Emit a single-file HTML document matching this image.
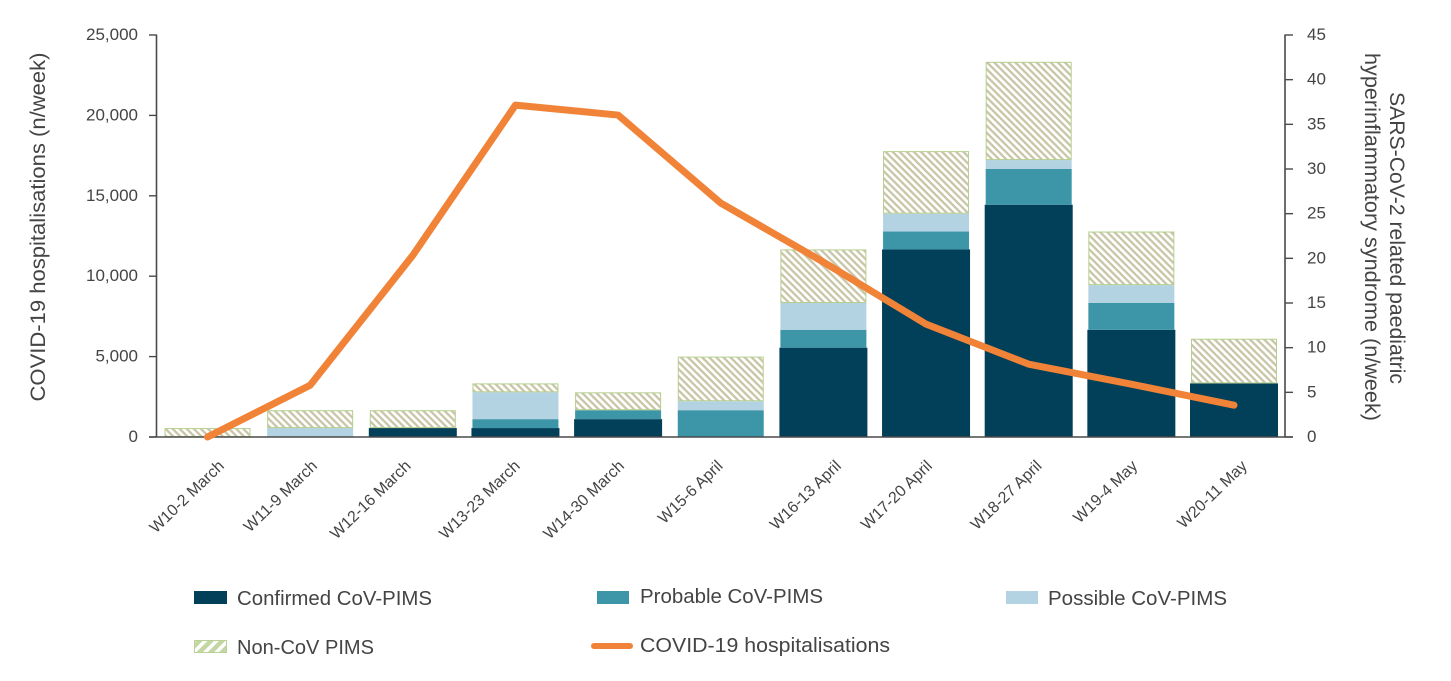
<!DOCTYPE html>
<html lang="en">
<head>
<meta charset="utf-8">
<title>COVID-19 hospitalisations and paediatric PIMS by week</title>
<style>
html,body{margin:0;padding:0;background:#fff;width:1451px;height:681px;overflow:hidden}
svg{display:block}
text{font-family:"Liberation Sans",sans-serif;fill:#444}
.tick{font-size:17px}
.axis-title{font-size:21px}
.cat{font-size:16px}
.legend{font-size:20px}
</style>
</head>
<body>
<svg id="chart" width="1451" height="681" viewBox="0 0 1451 681" xmlns="http://www.w3.org/2000/svg">
  <defs>
    <pattern id="hatch" width="5" height="5" patternUnits="userSpaceOnUse" patternTransform="rotate(45)">
      <rect width="5" height="5" fill="#fff"/>
      <rect width="5" height="2.3" fill="#c8c5a6"/>
    </pattern>
    <pattern id="hatch-legend" width="8" height="8" patternUnits="userSpaceOnUse" patternTransform="rotate(-45)">
      <rect width="8" height="8" fill="#fff"/>
      <rect width="8" height="4.5" fill="#c3d7a4"/>
    </pattern>
  </defs>
  <g id="bars"></g>
  <g id="axes"></g>
  <g id="line"></g>

  <text class="axis-title" transform="translate(45,227) rotate(-90)" text-anchor="middle" textLength="349" lengthAdjust="spacingAndGlyphs">COVID-19 hospitalisations (n/week)</text>
  <text class="axis-title" transform="translate(1390,238) rotate(90)" text-anchor="middle" textLength="292" lengthAdjust="spacingAndGlyphs">SARS-CoV-2 related paediatric</text>
  <text class="axis-title" transform="translate(1365,237) rotate(90)" text-anchor="middle" textLength="368" lengthAdjust="spacingAndGlyphs">hyperinflammatory syndrome (n/week)</text>

  <g>
    <g>
      <rect x="194" y="591" width="33" height="13" fill="#023f58"/>
      <text class="legend" x="237" y="605" textLength="195" lengthAdjust="spacingAndGlyphs">Confirmed CoV-PIMS</text>
    </g>
    <g>
      <rect x="597" y="591" width="32" height="13" fill="#3d96a8"/>
      <text class="legend" x="640" y="603" textLength="183" lengthAdjust="spacingAndGlyphs">Probable CoV-PIMS</text>
    </g>
    <g>
      <rect x="1006" y="591" width="32" height="13" fill="#b3d3e3"/>
      <text class="legend" x="1048" y="605" textLength="179" lengthAdjust="spacingAndGlyphs">Possible CoV-PIMS</text>
    </g>
    <g>
      <rect x="194.5" y="640.5" width="32" height="12" fill="url(#hatch-legend)" stroke="#b9d294" stroke-width="1"/>
      <text class="legend" x="237" y="654" textLength="137" lengthAdjust="spacingAndGlyphs">Non-CoV PIMS</text>
    </g>
    <g>
      <line x1="594" y1="646" x2="630" y2="646" stroke="#f08337" stroke-width="6" stroke-linecap="round"/>
      <text class="legend" x="640" y="652" textLength="250" lengthAdjust="spacingAndGlyphs">COVID-19 hospitalisations</text>
    </g>
  </g>
</svg>
<script>
const categories = ["W10-2 March","W11-9 March","W12-16 March","W13-23 March","W14-30 March","W15-6 April","W16-13 April","W17-20 April","W18-27 April","W19-4 May","W20-11 May"];
const confirmed = [0,0,1,1,2,0,10,21,26,12,6];
const probable = [0,0,0,1,1,3,2,2,4,3,0];
const possible = [0,1,0,3,0,1,3,2,1,2,0];
const nonCov = [1,2,2,1,2,5,6,7,11,6,5];
const hospitalisations = [0,3220,11300,20640,20020,14550,10880,7020,4530,3285,1980];
const leftTicks = [0,5000,10000,15000,20000,25000];
const rightTicks = [0,5,10,15,20,25,30,35,40,45];

const NS = 'http://www.w3.org/2000/svg';
const plotBottom = 437, plotTop = 35;
const yLeft = v => plotBottom - (v / 25000) * (plotBottom - plotTop);
const yRight = v => plotBottom - (v / 45) * (plotBottom - plotTop);
const xCenter = i => 207.5 + i * 102.65;
const barWidth = 86;

function labelShift(i) {
  return [17.5,8,-1,5.5,7,3,18.6,7,14,7,14][i];
}

function make(tag, attrs, parent) {
  const el = document.createElementNS(NS, tag);
  for (const k in attrs) el.setAttribute(k, attrs[k]);
  parent.appendChild(el);
  return el;
}

const barsG = document.getElementById('bars');
const axesG = document.getElementById('axes');
const lineG = document.getElementById('line');

const seriesList = [
  {key: 'confirmed', values: confirmed, fill: '#023f58', grow: 1},
  {key: 'probable', values: probable, fill: '#3d96a8', grow: 0},
  {key: 'possible', values: possible, fill: '#b3d3e3', grow: 0},
  {key: 'non-cov', values: nonCov, fill: 'url(#hatch)', grow: 0}
];

categories.forEach((cat, i) => {
  let base = 0;
  seriesList.forEach(s => {
    const v = s.values[i];
    if (v > 0) {
      const top = yRight(base + v), bottom = yRight(base);
      const hatched = s.key === 'non-cov';
      const r = make('rect', {
        x: xCenter(i) - barWidth / 2 - s.grow + (hatched ? 0.5 : 0),
        y: top + (hatched ? 0.5 : 0),
        width: barWidth + 2 * s.grow - (hatched ? 1 : 0),
        height: bottom - top - (hatched ? 1 : 0),
        fill: s.fill
      }, barsG);
      if (hatched) {
        r.setAttribute('stroke', '#b5cf8e');
        r.setAttribute('stroke-width', '1');
      }
      
      
    }
    base += v;
  });

  const lx = xCenter(i) + labelShift(i), ly = 467;
  const label = make('text', {
    class: 'cat',
    'text-anchor': 'end',
    transform: 'translate(' + lx + ',' + ly + ') rotate(-44)'
  }, axesG);
  label.textContent = cat;
  
  
});

const axisColor = '#4a4a4a';
const leftAxis = make('line', {x1: 156.5, y1: plotTop - 0.5, x2: 156.5, y2: plotBottom, stroke: axisColor, 'stroke-width': 1.6}, axesG);


const rightAxis = make('line', {x1: 1285, y1: plotTop - 0.5, x2: 1285, y2: plotBottom, stroke: axisColor, 'stroke-width': 1.6}, axesG);


const baseAxis = make('line', {x1: 149, y1: plotBottom, x2: 1293, y2: plotBottom, stroke: axisColor, 'stroke-width': 1.6}, axesG);



leftTicks.forEach(t => {
  const y = yLeft(t);
  const mark = make('line', {x1: 149, y1: y, x2: 156.5, y2: y, stroke: axisColor, 'stroke-width': 1.4}, axesG);
  
  
  const txt = make('text', {class: 'tick', x: 138, y: y + 5, 'text-anchor': 'end'}, axesG);
  txt.textContent = t.toLocaleString('en-US');
  
  
});

rightTicks.forEach(t => {
  const y = yRight(t);
  const mark = make('line', {x1: 1285, y1: y, x2: 1293, y2: y, stroke: axisColor, 'stroke-width': 1.4}, axesG);
  
  
  const txt = make('text', {class: 'tick', x: 1307, y: y + 5}, axesG);
  txt.textContent = String(t);
  
  
});

const pts = hospitalisations.map((v, i) => xCenter(i) + ',' + yLeft(v)).join(' ');
const path = make('polyline', {
  points: pts,
  fill: 'none',
  stroke: '#f08337',
  'stroke-width': 7,
  'stroke-linejoin': 'round',
  'stroke-linecap': 'round'
}, lineG);


</script>
</body>
</html>
